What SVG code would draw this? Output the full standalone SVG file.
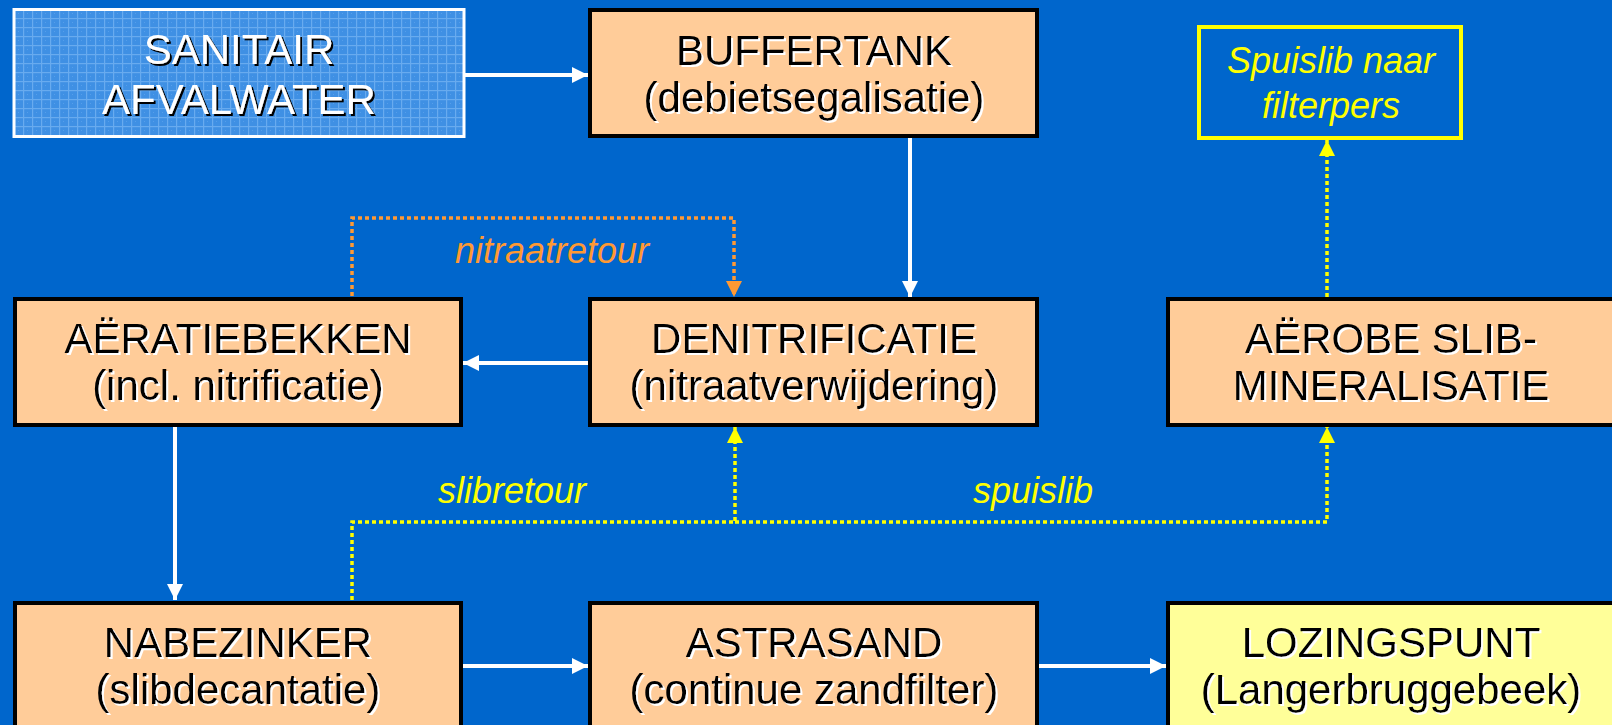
<svg xmlns="http://www.w3.org/2000/svg" width="1612" height="725" viewBox="0 0 1612 725">
<style>
.box{fill:#FFCC99;stroke:#000;stroke-width:4}
.t{font-family:"Liberation Sans",Arial,sans-serif;font-size:42px;text-anchor:middle;fill:#000}
.tw{fill:#fff}
.lbl{font-family:"Liberation Sans",Arial,sans-serif;font-size:36px;font-style:italic;text-anchor:middle}
.flow{stroke:#fff;stroke-width:4;fill:none}
.dot{stroke-width:3.5;fill:none;stroke-dasharray:4 3}
</style>
<defs>
<pattern id="grid" x="14" y="9" width="9" height="9" patternUnits="userSpaceOnUse">
<rect width="9" height="9" fill="#3F90E4"/>
<rect width="9" height="1.2" fill="#68ABEF"/>
<rect width="1.2" height="9" fill="#68ABEF"/>
<rect x="4" y="4" width="1" height="1" fill="#559EEA"/>
</pattern>
<filter id="shW" x="-5%" y="-20%" width="110%" height="140%">
<feOffset in="SourceAlpha" dx="2" dy="2" result="o"/>
<feFlood flood-color="#ffffff"/>
<feComposite in2="o" operator="in"/>
<feMerge><feMergeNode/><feMergeNode in="SourceGraphic"/></feMerge>
</filter>
<filter id="shB" x="-5%" y="-20%" width="110%" height="140%">
<feOffset in="SourceAlpha" dx="2" dy="2" result="o"/>
<feFlood flood-color="#000000"/>
<feComposite in2="o" operator="in"/>
<feMerge><feMergeNode/><feMergeNode in="SourceGraphic"/></feMerge>
</filter>
<marker id="aw" viewBox="0 0 10 10" refX="10" refY="5" markerWidth="16" markerHeight="16" markerUnits="userSpaceOnUse" orient="auto"><path d="M0,0 L10,5 L0,10 z" fill="#fff"/></marker>
<marker id="ao" viewBox="0 0 10 10" refX="10" refY="5" markerWidth="17" markerHeight="16" markerUnits="userSpaceOnUse" orient="auto"><path d="M0,0 L10,5 L0,10 z" fill="#FF9933"/></marker>
<marker id="ay" viewBox="0 0 10 10" refX="10" refY="5" markerWidth="17" markerHeight="16" markerUnits="userSpaceOnUse" orient="auto"><path d="M0,0 L10,5 L0,10 z" fill="#FFFF00"/></marker>
</defs>
<rect width="1612" height="725" fill="#0066CC"/>

<g id="connectors">
<line class="flow" x1="465" y1="75" x2="588" y2="75" marker-end="url(#aw)"/>
<line class="flow" x1="910" y1="138" x2="910" y2="297" marker-end="url(#aw)"/>
<line class="flow" x1="588" y1="363" x2="463" y2="363" marker-end="url(#aw)"/>
<line class="flow" x1="175" y1="427" x2="175" y2="600" marker-end="url(#aw)"/>
<line class="flow" x1="463" y1="666" x2="588" y2="666" marker-end="url(#aw)"/>
<line class="flow" x1="1039" y1="666" x2="1166" y2="666" marker-end="url(#aw)"/>
<path class="dot" stroke="#FF9933" d="M352,296 V218 H734 V297" marker-end="url(#ao)"/>
<path class="dot" stroke="#FFFF00" d="M352,600 V522 H735 V427" marker-end="url(#ay)"/>
<path class="dot" stroke="#FFFF00" d="M735,522 H1327 V427" marker-end="url(#ay)"/>
<path class="dot" stroke="#FFFF00" d="M1327,297 V140" marker-end="url(#ay)"/>
<text class="lbl" fill="#FF9933" x="552" y="263">nitraatretour</text>
<text class="lbl" fill="#FFFF00" x="512" y="503">slibretour</text>
<text class="lbl" fill="#FFFF00" x="1033" y="503">spuislib</text>
</g>

<g id="sanitair">
<rect x="14" y="9.5" width="450" height="127" fill="url(#grid)" stroke="#fff" stroke-width="3"/>
<g filter="url(#shB)"><text class="t tw" x="239" y="64">SANITAIR</text><text class="t tw" x="239" y="114">AFVALWATER</text></g>
</g>

<g id="buffertank">
<rect class="box" x="590" y="10" width="447" height="126"/>
<g filter="url(#shW)"><text class="t" x="814" y="65">BUFFERTANK</text><text class="t" x="814" y="112">(debietsegalisatie)</text></g>
</g>

<g id="filterpers">
<rect x="1199" y="27" width="262" height="111" fill="none" stroke="#FFFF00" stroke-width="4"/>
<text class="lbl" fill="#FFFF00" x="1331" y="73">Spuislib naar</text>
<text class="lbl" fill="#FFFF00" x="1331" y="118">filterpers</text>
</g>

<g id="aeratiebekken">
<rect class="box" x="15" y="299" width="446" height="126"/>
<g filter="url(#shW)"><text class="t" x="238" y="353">AËRATIEBEKKEN</text><text class="t" x="238" y="400">(incl. nitrificatie)</text></g>
</g>

<g id="denitrificatie">
<rect class="box" x="590" y="299" width="447" height="126"/>
<g filter="url(#shW)"><text class="t" x="814" y="353">DENITRIFICATIE</text><text class="t" x="814" y="400">(nitraatverwijdering)</text></g>
</g>

<g id="aerobe">
<rect class="box" x="1168" y="299" width="447" height="126"/>
<g filter="url(#shW)"><text class="t" x="1391" y="353">AËROBE SLIB-</text><text class="t" x="1391" y="400">MINERALISATIE</text></g>
</g>

<g id="nabezinker">
<rect class="box" x="15" y="603" width="446" height="130"/>
<g filter="url(#shW)"><text class="t" x="238" y="657">NABEZINKER</text><text class="t" x="238" y="704">(slibdecantatie)</text></g>
</g>

<g id="astrasand">
<rect class="box" x="590" y="603" width="447" height="130"/>
<g filter="url(#shW)"><text class="t" x="814" y="657">ASTRASAND</text><text class="t" x="814" y="704">(continue zandfilter)</text></g>
</g>

<g id="lozingspunt">
<rect class="box" x="1168" y="603" width="447" height="130" style="fill:#FFFF99"/>
<g filter="url(#shW)"><text class="t" x="1391" y="657">LOZINGSPUNT</text><text class="t" x="1391" y="704">(Langerbruggebeek)</text></g>
</g>
</svg>
